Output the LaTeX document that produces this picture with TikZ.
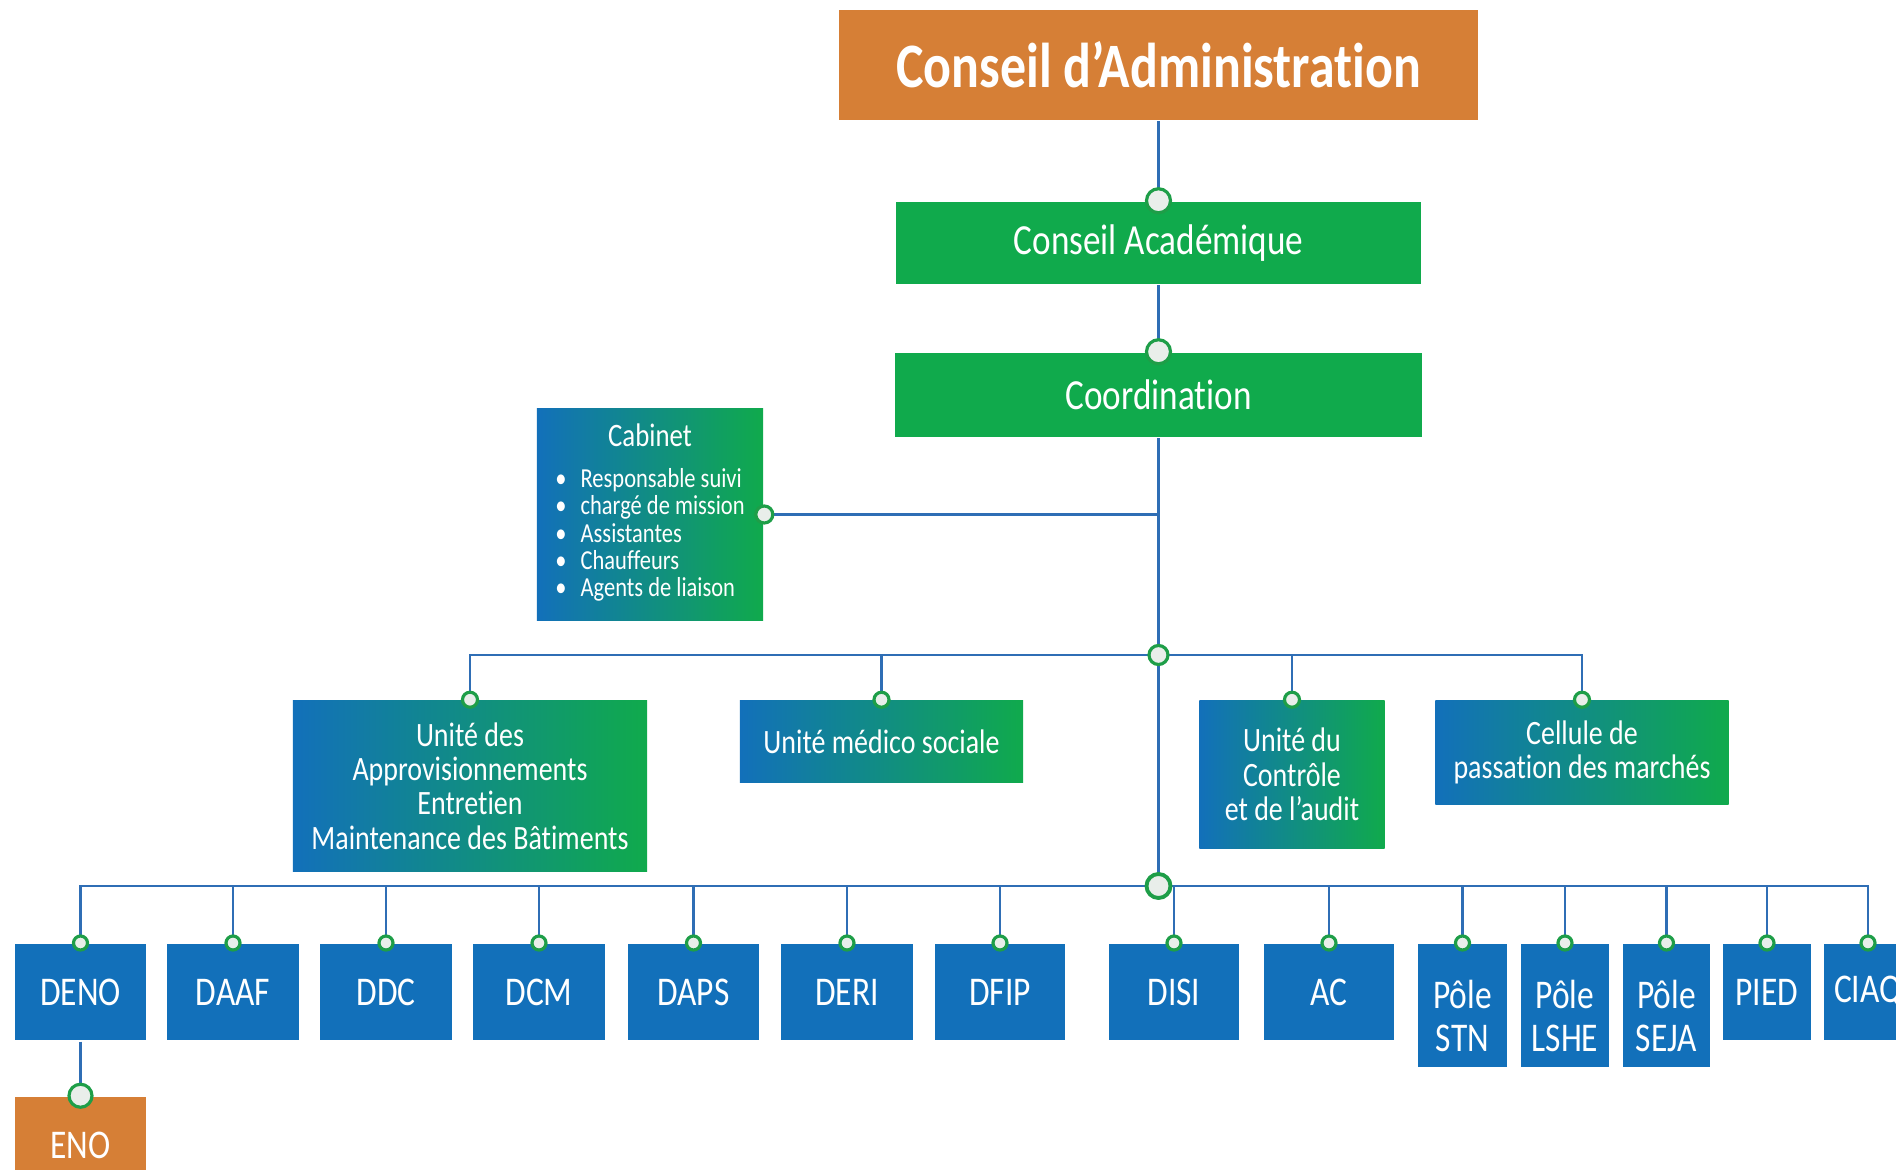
\documentclass[tikz,border=0pt]{standalone}
\usepackage{fontspec}
\setmainfont{Carlito}[FakeStretch=0.82, Ligatures={TeX,NoCommon}]
\usetikzlibrary{positioning}
\definecolor{orgorange}{HTML}{D67F36}
\definecolor{orggreen}{HTML}{10AA4C}
\definecolor{orgblue}{HTML}{1270BA}
\definecolor{linkblue}{HTML}{2F6EB5}
\definecolor{ringgreen}{HTML}{1E9E48}
\definecolor{ringfill}{HTML}{E9EEEA}

\begin{document}
\begin{tikzpicture}[x=0.01cm, y=-0.01cm, line width=0.7pt,
    box/.style={inner sep=0pt, text=white, align=center},
    grad/.style={box, left color=orgblue, right color=orggreen, font=\fontsize{9.7}{9.8}\selectfont},
    unit/.style={box, fill=orgblue, anchor=north, font=\fontsize{11.6}{12.2}\selectfont},
    link/.style={draw=linkblue},
    ring/.style={draw=ringgreen, fill=ringfill, line width=0.9pt}]
\useasboundingbox (0,0) rectangle (1896,1170);
\clip (0,0) rectangle (1896,1170);

% top of the chart
\node[box, fill=orgorange, minimum width=6.39cm, minimum height=1.10cm, font=\bfseries\fontsize{18}{20}\selectfont] (cda) at (1158.5,65) {Conseil d’Administration};
\node[box, fill=orggreen, minimum width=5.25cm, minimum height=0.82cm, font=\fontsize{12.2}{14}\selectfont] (cac) at (1158.5,243) {Conseil Académique};
\node[box, fill=orggreen, minimum width=5.27cm, minimum height=0.84cm, font=\fontsize{12.2}{14}\selectfont] (coord) at (1158.5,395) {Coordination};
\node[grad, minimum width=2.26cm, minimum height=2.11cm] (cab) at (650,514.5)
  {{\fontsize{9.3}{10}\selectfont Cabinet}\\[5pt]
   \fontsize{7.8}{7.8}\selectfont
   \begin{tabular}{@{}l@{}}
   \textbullet\hspace{4pt}Responsable suivi\\
   \textbullet\hspace{4pt}chargé de mission\\
   \textbullet\hspace{4pt}Assistantes\\
   \textbullet\hspace{4pt}Chauffeurs\\
   \textbullet\hspace{4pt}Agents de liaison
   \end{tabular}};

% units
\node[grad, minimum width=3.54cm, minimum height=1.70cm] (uap) at (470,786) {Unité des\\Approvisionnements\\Entretien\\Maintenance des Bâtiments};
\node[grad, minimum width=2.83cm, minimum height=0.81cm] (ums) at (881.5,741.5) {Unité médico sociale};
\node[grad, minimum width=1.85cm, minimum height=1.47cm] (uca) at (1292,774.5) {Unité du\\Contrôle\\et de l’audit};
\node[grad, minimum width=2.93cm, minimum height=1.03cm] (cpm) at (1582,752.5) {Cellule de\\passation des marchés};

% directions
\foreach \n/\x/\w/\h/\t in {deno/80.5/1.31/0.96/DENO, daaf/233/1.32/0.96/DAAF, ddc/386/1.32/0.96/DDC,
    dcm/539/1.32/0.96/DCM, daps/693.5/1.31/0.96/DAPS, deri/847/1.32/0.96/DERI, dfip/1000/1.30/0.96/DFIP,
    disi/1174/1.30/0.96/DISI, ac/1329/1.30/0.96/AC, stn/1462.5/0.89/1.23/{\rule{0pt}{14pt}Pôle\\STN},
    lshe/1565/0.88/1.23/{\rule{0pt}{14pt}Pôle\\LSHE}, seja/1666.5/0.87/1.23/{\rule{0pt}{14pt}Pôle\\SEJA},
    pied/1767/0.88/0.96/PIED, ciaq/1868/0.88/0.96/CIAQ}
  \node[unit, minimum width=\w cm, minimum height=\h cm] (\n) at (\x,943) {\t};
\node[box, fill=orgorange, minimum width=1.31cm, minimum height=0.96cm, font=\fontsize{11.6}{12.2}\selectfont] (eno) at (80.5,1145) {ENO};

% connectors
\coordinate (j1) at (1158.5,655);
\coordinate (j2) at (1158.5,886);
\draw[link] (cda) -- (cac);
\draw[link] (cac) -- (coord);
\draw[link] (coord.south) -- (j2);
\draw[link] (cab.east) -- (cab.east -| coord.south);
\draw[link] (uap.north) |- (j1) -| (cpm.north);
\draw[link] (ums.north) |- (j1) -| (uca.north);
\draw[link] (deno.north) |- (j2) -| (ciaq.north);
\foreach \n in {daaf,ddc,dcm,daps,deri,dfip,disi,ac,stn,lshe,seja,pied}
  \draw[link] (\n.north) |- (j2);
\draw[link] (deno) -- (eno);

% rings
\draw[ring] (cac.north) circle[radius=0.12cm];
\draw[ring] (coord.north) circle[radius=0.12cm];
\draw[ring] (cab.east) circle[radius=0.085cm];
\draw[ring] (j1) circle[radius=0.095cm];
\draw[ring, line width=1.1pt] (j2) circle[radius=0.12cm];
\foreach \n in {uap,ums,uca,cpm}
  \draw[ring] (\n.north) circle[radius=0.075cm];
\foreach \n in {deno,daaf,ddc,dcm,daps,deri,dfip,disi,ac,stn,lshe,seja,pied,ciaq}
  \draw[ring] (\n.north) circle[radius=0.07cm];
\draw[ring] (eno.north) circle[radius=0.115cm];
\end{tikzpicture}
\end{document}
